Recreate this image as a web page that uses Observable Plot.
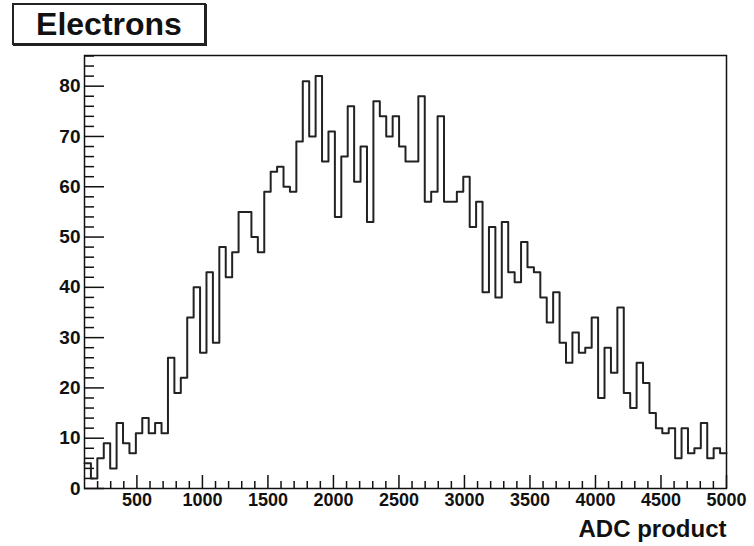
<!DOCTYPE html>
<html>
<head>
<meta charset="utf-8">
<script src="https://cdn.jsdelivr.net/npm/d3@7"></script>
<script src="https://cdn.jsdelivr.net/npm/@observablehq/plot@0.6"></script>
<style>
  body { margin: 0; background: #fff; }
  #wrap { position: relative; width: 754px; height: 546px; }
  #title {
    position: absolute; left: 12px; top: 3px; width: 194px; height: 42px;
    box-sizing: border-box; border: 2px solid #222; box-shadow: 1px 1px 0 #222;
    font: bold 32px "Liberation Sans", Arial, sans-serif; color: #111;
    text-align: center; line-height: 38px; background: #fff; z-index: 2;
  }
</style>
</head>
<body>
<div id="wrap"><div id="title"></div></div>
<script>
// ---- data ----
const chartTitle = "Electrons";
const xTitle = "ADC product";
const xMin = 100;
const xMax = 5000;
const nBins = 100;
const counts = [
  5, 2, 6, 9, 4, 13, 9, 7, 11, 14,
  11, 13, 11, 26, 19, 22, 34, 40, 27, 43,
  29, 48, 42, 47, 55, 55, 50, 47, 59, 63,
  64, 60, 59, 69, 81, 70, 82, 65, 71, 54,
  66, 76, 61, 68, 53, 77, 74, 70, 74, 68,
  65, 65, 78, 57, 59, 74, 57, 57, 59, 62,
  52, 57, 39, 52, 38, 53, 43, 41, 49, 44,
  43, 38, 33, 39, 29, 25, 31, 27, 28, 34,
  18, 28, 23, 36, 19, 16, 25, 21, 15, 12,
  11, 12, 6, 12, 7, 8, 13, 6, 8, 7
];
const yMax = 86.1;
const xMajorTicks = [500, 1000, 1500, 2000, 2500, 3000, 3500, 4000, 4500, 5000];
const xMinorTicks = d3.range(200, 5000, 100).filter(v => v % 500 !== 0);
const yMajorTicks = [0, 10, 20, 30, 40, 50, 60, 70, 80];
const yMinorTicks = d3.range(2, 87, 2).filter(v => v % 10 !== 0);

// ---- build ----
document.getElementById("title").textContent = chartTitle;
const binWidth = (xMax - xMin) / nBins;
const pts = counts.map((c, i) => ({x: xMin + i * binWidth, y: c}));
pts.push({x: xMax, y: counts[counts.length - 1]});

const font = '"Liberation Sans", Arial, Helvetica, sans-serif';
const ink = "#111";

const chart = Plot.plot({
  width: 754,
  height: 546,
  marginLeft: 84,
  marginRight: 28,
  marginTop: 55,
  marginBottom: 58,
  style: {fontFamily: font, background: "#fff", color: ink, overflow: "visible"},
  x: {domain: [xMin, xMax]},
  y: {domain: [0, yMax]},
  marks: [
    Plot.axisX(xMinorTicks, {tickSize: -7, tickFormat: () => "", label: null, stroke: ink, strokeWidth: 1.5}),
    Plot.axisX(xMajorTicks, {tickSize: -13, tickFormat: () => "", label: null, stroke: ink, strokeWidth: 1.5}),
    Plot.axisX(xMajorTicks, {tickSize: 0, tickPadding: 5, fontSize: 18, fontWeight: "bold", label: null, fill: ink, tickFormat: d => String(d)}),
    Plot.axisY(yMinorTicks, {tickSize: -10, tickFormat: () => "", label: null, stroke: ink, strokeWidth: 1.5}),
    Plot.axisY(yMajorTicks, {tickSize: -20, tickFormat: () => "", label: null, stroke: ink, strokeWidth: 1.5}),
    Plot.axisY(yMajorTicks, {tickSize: 0, tickPadding: 4, fontSize: 19, fontWeight: "bold", label: null, fill: ink, tickFormat: d => String(d)}),
    Plot.frame({stroke: ink, strokeWidth: 1.5}),
    Plot.line(pts, {x: "x", y: "y", curve: "step-after", stroke: "#222", strokeWidth: 2}),
    Plot.text([xTitle], {text: d => d, frameAnchor: "bottom-right", dy: 48, textAnchor: "end", fontSize: 24, fontWeight: "bold", fill: ink})
  ]
});
document.getElementById("wrap").appendChild(chart);
</script>
</body>
</html>
